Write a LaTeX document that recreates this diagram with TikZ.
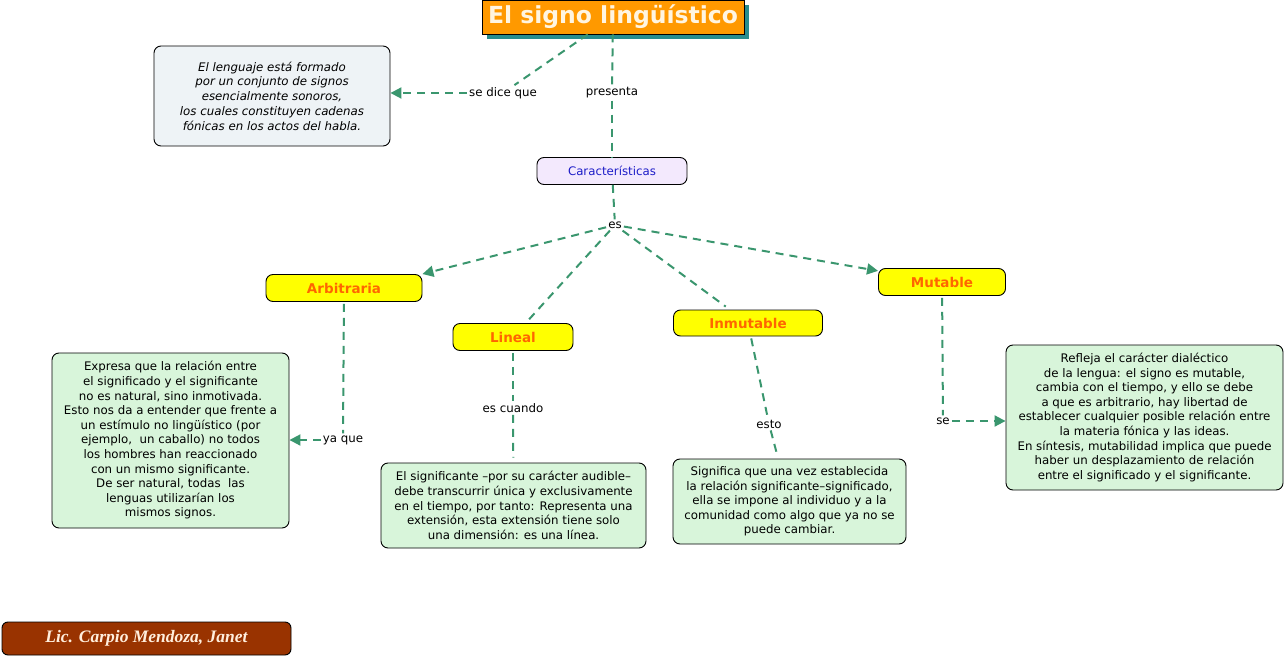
\documentclass[tikz,border=0pt]{standalone}
\usepackage{fontspec}
\setmainfont{DejaVu Sans}
\newfontfamily\sigfont{Liberation Serif}
\usetikzlibrary{arrows.meta,calc}
\definecolor{conn}{RGB}{58,150,110}
\definecolor{titlefill}{RGB}{255,153,0}
\definecolor{titleshadow}{RGB}{40,140,140}
\definecolor{titletext}{RGB}{255,245,225}
\definecolor{notefill}{RGB}{238,243,246}
\definecolor{caracfill}{RGB}{243,233,253}
\definecolor{caractext}{RGB}{30,30,200}
\definecolor{yellowfill}{RGB}{255,255,0}
\definecolor{yellowtext}{RGB}{255,102,0}
\definecolor{greenfill}{RGB}{216,245,218}
\definecolor{sigfill}{RGB}{153,51,0}
\definecolor{sigtext}{RGB}{255,238,220}
\tikzset{
  box/.style={draw=black, line width=0.9pt, rounded corners=7pt, inner sep=0pt, align=center},
  greenbox/.style={box, fill=greenfill, font=\fontsize{11.8}{14.6}\selectfont},
  yellowbox/.style={box, fill=yellowfill, text=yellowtext, font=\fontsize{13.5}{15}\selectfont\bfseries},
  lbl/.style={inner sep=2pt, font=\fontsize{11.8}{13}\selectfont},
  link/.style={draw=conn, line width=2pt, dash pattern=on 8pt off 6pt},
  arr/.style={link, -{Triangle[length=11pt,width=11pt]}},
}
\begin{document}
\begin{tikzpicture}[x=1pt,y=-1pt]
\useasboundingbox (0,0) rectangle (1286,658);
% title
\fill[titleshadow] (487,5) rectangle (749,39);
\node[draw=black, line width=0.9pt, fill=titlefill, text=titletext, inner sep=0pt,
  minimum width=262pt, minimum height=34pt, font=\fontsize{23.5}{26}\selectfont\bfseries]
  (title) at (613,17) {El signo lingüístico};
% left note
\node[box, fill=notefill, minimum width=236pt, minimum height=100pt,
  font=\fontsize{11.8}{14.7}\selectfont\itshape] (note) at (272,96)
  {El lenguaje está formado\\por un conjunto de signos\\esencialmente sonoros,\\los cuales constituyen cadenas\\fónicas en los actos del habla.};
\node[lbl] (sedice) at (503,93) {se dice que};
\node[lbl] (presenta) at (612,93) {presenta};
% caracteristicas
\node[box, fill=caracfill, text=caractext, minimum width=150pt, minimum height=27pt,
  font=\fontsize{11.8}{13}\selectfont] (carac) at (612,171) {Características};
\node[lbl] (es) at (615,225) {es};
% second level
\node[yellowbox, minimum width=156pt, minimum height=27pt] (arb) at (344,288) {Arbitraria};
\node[yellowbox, minimum width=120pt, minimum height=27pt] (lin) at (513,337) {Lineal};
\node[yellowbox, minimum width=149pt, minimum height=26pt] (inm) at (748,323) {Inmutable};
\node[yellowbox, minimum width=127pt, minimum height=27pt] (mut) at (942,282) {Mutable};
% labels
\node[lbl] (yaque) at (343,440) {ya que};
\node[lbl] (escuando) at (513,408) {es cuando};
\node[lbl] (esto) at (769,424) {esto};
\node[lbl] (se) at (943,421) {se};
% green boxes
\node[greenbox, minimum width=237pt, minimum height=175pt] (garb) at (170.5,440.5)
  {Expresa que la relación entre\\el significado y el significante\\no es natural, sino inmotivada.\\Esto nos da a entender que frente a\\un estímulo no lingüístico (por\\ejemplo,\ \ un caballo) no todos\\los hombres han reaccionado\\con un mismo significante.\\De ser natural, todas\ \ las\\lenguas utilizarían los\\mismos signos.};
\node[greenbox, minimum width=265pt, minimum height=85pt] (glin) at (513.5,505.5)
  {El significante –por su carácter audible–\\debe transcurrir única y exclusivamente\\en el tiempo, por tanto: Representa una\\extensión, esta extensión tiene solo\\una dimensión: es una línea.};
\node[greenbox, minimum width=233pt, minimum height=85pt] (ginm) at (789.5,501.5)
  {Significa que una vez establecida\\la relación significante–significado,\\ella se impone al individuo y a la\\comunidad como algo que ya no se\\puede cambiar.};
\node[greenbox, minimum width=277pt, minimum height=145pt] (gmut) at (1144.5,417.5)
  {Refleja el carácter dialéctico\\de la lengua: el signo es mutable,\\cambia con el tiempo, y ello se debe\\a que es arbitrario, hay libertad de\\establecer cualquier posible relación entre\\la materia fónica y las ideas.\\En síntesis, mutabilidad implica que puede\\haber un desplazamiento de relación\\entre el significado y el significante.};
% signature
\node[draw=black, line width=0.9pt, rounded corners=6pt, fill=sigfill, text=sigtext,
  minimum width=289pt, minimum height=33pt, inner sep=0pt,
  font=\sigfont\fontsize{17.5}{19}\selectfont\bfseries\itshape] (sig) at (146.5,638.5)
  {Lic. Carpio Mendoza, Janet};
% connectors
\draw[link] (title) -- (sedice);
\draw[arr] (sedice.west) -- (sedice.west -| note.east);
\draw[link] (title) -- (presenta);
\draw[link] (presenta) -- (carac);
\draw[link] (carac) -- (es);
\draw[arr] (es) -- (arb.north east);
\draw[link, shorten >=3pt] (es) -- (lin);
\draw[link, shorten >=5pt] (es) -- (inm);
\draw[arr] (es) -- (mut);
\draw[link, shorten <=2pt] (arb) -- (yaque);
\draw[arr] (yaque.west) -- (yaque.west -| garb.east);
\draw[link, shorten <=2pt] (lin) -- (escuando);
\draw[link, shorten >=5pt] (escuando) -- (glin);
\draw[link, shorten <=2pt] (inm) -- (esto);
\draw[link, shorten >=3pt] (esto) -- (ginm);
\draw[link, shorten <=2pt] (mut) -- (se);
\draw[arr] (se.east) -- (se.east -| gmut.west);
\end{tikzpicture}
\end{document}
